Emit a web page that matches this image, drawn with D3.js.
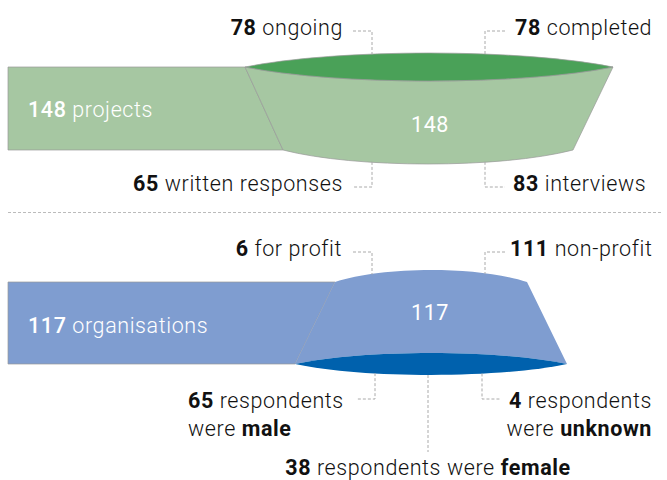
<!DOCTYPE html>
<html>
<head>
<meta charset="utf-8">
<script src="https://cdn.jsdelivr.net/npm/d3@7"></script>
<style>
  body { margin: 0; background: #fff; }
  text { font-family: "Helvetica Neue", Roboto, "Liberation Sans", sans-serif; font-size: 21.5px; font-weight: 300; letter-spacing: 0.6px; fill: #111; }
  .num { font-weight: 700; }
</style>
</head>
<body>
<svg width="667" height="480"></svg>
<script>
// data
const projectTotal = 148;
const projectStatus = [ { label: 'ongoing', value: 78 }, { label: 'completed', value: 78 } ];
const projectMethod = [ { label: 'written responses', value: 65 }, { label: 'interviews', value: 83 } ];
const orgTotal = 117;
const orgType = [ { label: 'for profit', value: 6 }, { label: 'non-profit', value: 111 } ];
const respondents = [ { label: 'male', value: 65 }, { label: 'female', value: 38 }, { label: 'unknown', value: 4 } ];

const svg = d3.select('svg');

// cubic with both handles at same offset -> middle sags by s
function bulge(p, a, b, s) {
    const d = s / 0.75;
    p.bezierCurveTo(a[0] + (b[0] - a[0]) * 0.25, a[1] + (b[1] - a[1]) * 0.25 + d,
                    a[0] + (b[0] - a[0]) * 0.75, a[1] + (b[1] - a[1]) * 0.75 + d,
                    b[0], b[1]);
}
// y of that curve at a given x
function bulgeY(a, b, s, x) {
    const d = s / 0.75;
    const t = d3.scaleLinear().domain([a[0], b[0]]).range([0, 1]).clamp(true)(x);
    const y0 = a[1] + (b[1] - a[1]) * t;
    return y0 + 3 * t * (1 - t) * d;
}

function connector(pts) {
    svg.append('path')
        .attr('d', d3.line()(pts))
        .attr('fill', 'none')
        .attr('stroke', '#aaa')
        .attr('stroke-width', 1)
        .attr('stroke-dasharray', '3,2');
}

function label(x, y, anchor, num, rest, color, numWeight) {
    const t = svg.append('text').attr('x', x).attr('y', y).attr('text-anchor', anchor);
    if (color) t.style('fill', color);
    if (num !== null) t.append('tspan').attr('class', 'num').style('font-weight', numWeight || 700).text(num);
    if (rest) t.append('tspan').text(rest);
    return t;
}

// panel 1: projects
const p1 = { top: 67, bot: 150, lT: 245, lB: 283, rT: 613, rB: 573, sagBot: 14, lens: 14,
             light: '#a6c7a2', dark: '#4aa158' };
// panel 2: organisations
const p2 = { top: 282, bot: 364, lT: 335, lB: 295, rT: 527, rB: 567, sagTop: -12, lens: 11,
             light: '#7f9dd0', dark: '#0061ad' };
const x0 = 8;
const stroke = '#9a9a9a';

// ---- top panel ----
svg.append('path')
    .attr('d', d3.line()([[x0, p1.top], [p1.lT, p1.top], [p1.lB, p1.bot], [x0, p1.bot]]) + 'Z')
    .attr('fill', p1.light).attr('stroke', stroke).attr('stroke-width', 0.7);

let p = d3.path();
p.moveTo(p1.lT, p1.top);
bulge(p, [p1.lT, p1.top], [p1.rT, p1.top], p1.lens);
p.lineTo(p1.rB, p1.bot);
bulge(p, [p1.rB, p1.bot], [p1.lB, p1.bot], p1.sagBot);
p.closePath();
svg.append('path').attr('d', p.toString())
    .attr('fill', p1.light).attr('stroke', stroke).attr('stroke-width', 0.7);

p = d3.path();
p.moveTo(p1.lT, p1.top);
bulge(p, [p1.lT, p1.top], [p1.rT, p1.top], -p1.lens);
bulge(p, [p1.rT, p1.top], [p1.lT, p1.top], p1.lens);
p.closePath();
svg.append('path').attr('d', p.toString())
    .attr('fill', p1.dark).attr('stroke', stroke).attr('stroke-width', 0.7);

const cxL = 372, cxR = 485;
let yA = bulgeY([p1.lT, p1.top], [p1.rT, p1.top], -p1.lens, cxL);
connector([[353, 31], [cxL, 31], [cxL, yA]]);
yA = bulgeY([p1.lT, p1.top], [p1.rT, p1.top], -p1.lens, cxR);
connector([[505, 31], [cxR, 31], [cxR, yA]]);
yA = bulgeY([p1.rB, p1.bot], [p1.lB, p1.bot], p1.sagBot, cxL);
connector([[cxL, yA], [cxL, 187], [353, 187]]);
yA = bulgeY([p1.rB, p1.bot], [p1.lB, p1.bot], p1.sagBot, cxR);
connector([[cxR, yA], [cxR, 187], [505, 187]]);

label(343, 35, 'end', projectStatus[0].value, ' ' + projectStatus[0].label);
label(515, 35, 'start', projectStatus[1].value, ' ' + projectStatus[1].label);
label(343, 191, 'end', projectMethod[0].value, ' ' + projectMethod[0].label);
label(513, 191, 'start', projectMethod[1].value, ' ' + projectMethod[1].label);
label(28, 117, 'start', projectTotal, ' projects', '#fff', 500);
label(430, 132, 'middle', projectTotal, null, '#fff', 400);

// separator
svg.append('line').attr('x1', 8).attr('x2', 662).attr('y1', 212.5).attr('y2', 212.5)
    .attr('stroke', '#bbb').attr('stroke-dasharray', '3,2');

// ---- bottom panel ----
svg.append('path')
    .attr('d', d3.line()([[x0, p2.top], [p2.lT, p2.top], [p2.lB, p2.bot], [x0, p2.bot]]) + 'Z')
    .attr('fill', p2.light).attr('stroke', stroke).attr('stroke-width', 0.7);

p = d3.path();
p.moveTo(p2.lT, p2.top);
bulge(p, [p2.lT, p2.top], [p2.rT, p2.top], p2.sagTop);
p.lineTo(p2.rB, p2.bot);
bulge(p, [p2.rB, p2.bot], [p2.lB, p2.bot], -p2.lens);
p.closePath();
svg.append('path').attr('d', p.toString())
    .attr('fill', p2.light).attr('stroke', 'none');

p = d3.path();
p.moveTo(p2.lB, p2.bot);
bulge(p, [p2.lB, p2.bot], [p2.rB, p2.bot], -p2.lens);
bulge(p, [p2.rB, p2.bot], [p2.lB, p2.bot], p2.lens);
p.closePath();
svg.append('path').attr('d', p.toString())
    .attr('fill', p2.dark).attr('stroke', 'none');

yA = bulgeY([p2.lT, p2.top], [p2.rT, p2.top], p2.sagTop, cxL);
connector([[353, 252], [cxL, 252], [cxL, yA]]);
yA = bulgeY([p2.lT, p2.top], [p2.rT, p2.top], p2.sagTop, cxR);
connector([[505, 252], [cxR, 252], [cxR, yA]]);
const lensBot = (x) => bulgeY([p2.rB, p2.bot], [p2.lB, p2.bot], p2.lens, x);
connector([[375, lensBot(375)], [375, 399], [357, 399]]);
connector([[428, lensBot(428)], [428, 452]]);
connector([[482, lensBot(482)], [482, 399], [500, 399]]);

label(342, 256, 'end', orgType[0].value, ' ' + orgType[0].label);
label(510, 256, 'start', orgType[1].value, ' ' + orgType[1].label);
label(28, 333, 'start', orgTotal, ' organisations', '#fff', 500);
label(430, 320, 'middle', orgTotal, null, '#fff', 400);

label(188, 408, 'start', respondents[0].value, ' respondents');
label(188, 436, 'start', null, 'were ').append('tspan').attr('class', 'num').text(respondents[0].label);
label(652, 408, 'end', respondents[2].value, ' respondents');
label(652, 436, 'end', null, 'were ').append('tspan').attr('class', 'num').text(respondents[2].label);
label(428, 475, 'middle', respondents[1].value, ' respondents were ').append('tspan').attr('class', 'num').text(respondents[1].label);
</script>
</body>
</html>
